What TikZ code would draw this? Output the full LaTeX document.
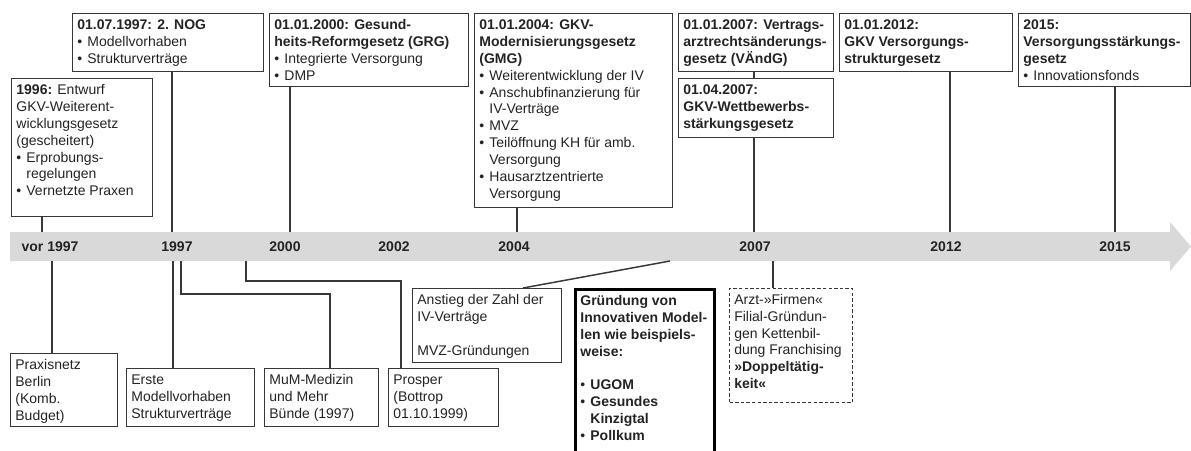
\documentclass[tikz,border=0pt]{standalone}
\usepackage{fontspec}
\setmainfont{Liberation Sans}
\newdimen\pxu \pxu=0.75pt
\newcommand\bx[3]{\begin{minipage}[t][\dimexpr #2\pxu-5.6pt\relax][t]{\dimexpr #1\pxu-7pt\relax}\begin{tabular}[t]{@{}l@{}}#3\end{tabular}\end{minipage}}
\newcommand\bl{\makebox[7.5pt][l]{\textbullet}}
\newcommand\ind{\hspace*{7.5pt}}
\definecolor{ln}{RGB}{55,55,55}
\definecolor{bandc}{RGB}{217,217,217}
\definecolor{txt}{RGB}{35,35,35}
\begin{document}
\begin{tikzpicture}[x=0.75pt,y=-0.75pt,
  box/.style={draw=ln, line width=1.1pt, inner xsep=3.5pt, inner ysep=2.8pt, anchor=north west, text=txt, font=\fontsize{10.5}{12.7}\selectfont},
  thickbox/.style={box, draw=black, line width=2.6pt},
  dashbox/.style={box, line width=0.9pt, dash pattern=on 2.6pt off 1.6pt},
  conn/.style={draw=ln, line width=1.1pt},
  yr/.style={font=\fontsize{10.5}{12}\selectfont\bfseries, text=txt, inner sep=0pt}]
\useasboundingbox (0,0) rectangle (1191,450);
\clip (0,0) rectangle (1191,450);
% time band
\fill[bandc] (10,232) -- (1170,232) -- (1170,222) -- (1191,246.5) -- (1170,271) -- (1170,261) -- (10,261) -- cycle;
% year labels
\node[yr] (yv) at (50,247) {vor 1997};
\node[yr] (y97) at (177,247) {1997};
\node[yr] (y00) at (285,247) {2000};
\node[yr] (y02) at (394,247) {2002};
\node[yr] (y04) at (514,247) {2004};
\node[yr] (y07) at (755,247) {2007};
\node[yr] (y12) at (946,247) {2012};
\node[yr] (y15) at (1115,247) {2015};
% upper boxes
\node[box] (b1996) at (11,78) {\bx{141}{138}{\textbf{1996:} Entwurf\\GKV-Weiterent-\\wicklungsgesetz\\(gescheitert)\\\bl Erprobungs-\\\ind regelungen\\\bl Vernetzte Praxen}};
\node[box] (b1997) at (72,13) {\bx{191}{58}{\textbf{01.07.1997: 2. NOG}\\\bl Modellvorhaben\\\bl Strukturverträge}};
\node[box] (b2000) at (269,13) {\bx{199}{73}{\textbf{01.01.2000: Gesund-}\\\textbf{heits-Reformgesetz (GRG)}\\\bl Integrierte Versorgung\\\bl DMP}};
\node[box] (b2004) at (474,13) {\bx{198}{194}{\textbf{01.01.2004: GKV-}\\\textbf{Modernisierungsgesetz}\\\textbf{(GMG)}\\\bl Weiterentwicklung der IV\\\bl Anschubfinanzierung für\\\ind IV-Verträge\\\bl MVZ\\\bl Teilöffnung KH für amb.\\\ind Versorgung\\\bl Hausarztzentrierte\\\ind Versorgung}};
\node[box] (b2007a) at (678,13) {\bx{155}{58}{\textbf{01.01.2007: Vertrags-}\\\textbf{arztrechtsänderungs-}\\\textbf{gesetz (VÄndG)}}};
\node[box] (b2007b) at (678,78) {\bx{155}{59}{\textbf{01.04.2007:}\\\textbf{GKV-Wettbewerbs-}\\\textbf{stärkungsgesetz}}};
\node[box] (b2012) at (839,13) {\bx{173}{58}{\textbf{01.01.2012:}\\\textbf{GKV Versorgungs-}\\\textbf{strukturgesetz}}};
\node[box] (b2015) at (1018,13) {\bx{172}{73}{\textbf{2015:}\\\textbf{Versorgungsstärkungs-}\\\textbf{gesetz}\\\bl Innovationsfonds}};
% lower boxes
\node[box] (bPrax) at (10,353) {\bx{107}{73}{Praxisnetz\\Berlin\\(Komb.\\Budget)}};
\node[box] (bErste) at (126,368) {\bx{128}{58}{Erste\\Modellvorhaben\\Strukturverträge}};
\node[box] (bMuM) at (264,368) {\bx{114}{58}{MuM-Medizin\\und Mehr\\Bünde (1997)}};
\node[box] (bProsper) at (388,368) {\bx{110}{58}{Prosper\\(Bottrop\\01.10.1999)}};
\node[box] (bAnstieg) at (412,288) {\bx{149}{74}{Anstieg der Zahl der\\IV-Verträge\\ \\MVZ-Gründungen}};
\node[thickbox] (bGruend) at (574,288) {\bx{139}{200}{\textbf{Gründung von}\\\textbf{Innovativen Model-}\\\textbf{len wie beispiels-}\\\textbf{weise:}\\ \\\bl\textbf{UGOM}\\\bl\textbf{Gesundes}\\\ind\textbf{Kinzigtal}\\\bl\textbf{Pollkum}}};
\node[dashbox] (bDash) at (729,288) {\bx{123}{114}{Arzt-»Firmen«\\Filial-Gründun-\\gen Kettenbil-\\dung Franchising\\\textbf{»Doppeltätig-}\\\textbf{keit«}}};
% band attachment points
\coordinate (u1996) at (42,232);
\coordinate (u1997) at (172,232);
\coordinate (u2000) at (290,232);
\coordinate (u2004) at (517,232);
\coordinate (u2007) at (754,232);
\coordinate (u2012) at (950,232);
\coordinate (u2015) at (1115,232);
\coordinate (d1) at (52,261);
\coordinate (d2) at (173,261);
\coordinate (d3) at (181,261);
\coordinate (d4) at (246,261);
\coordinate (d5) at (670,261);
\coordinate (d6) at (773,261);
\coordinate (m1) at (330,294);
\coordinate (m2) at (401,281);
% upper connectors
\draw[conn] (u1996 |- b1996.south) -- (u1996);
\draw[conn] (u1997 |- b1997.south) -- (u1997);
\draw[conn] (u2000 |- b2000.south) -- (u2000);
\draw[conn] (u2004 |- b2004.south) -- (u2004);
\draw[conn] (u2007 |- b2007a.south) -- (u2007 |- b2007b.north);
\draw[conn] (u2007 |- b2007b.south) -- (u2007);
\draw[conn] (u2012 |- b2012.south) -- (u2012);
\draw[conn] (u2015 |- b2015.south) -- (u2015);
% lower connectors
\draw[conn] (d1) -- (d1 |- bPrax.north);
\draw[conn] (d2) -- (d2 |- bErste.north);
\draw[conn] (d3) |- (m1) -- (m1 |- bMuM.north);
\draw[conn] (d4) |- (m2) -- (m2 |- bProsper.north);
\draw[conn] (d5) -- ([xshift=111\pxu]bAnstieg.north west);
\draw[conn] (d6) -- (d6 |- bDash.north);
\end{tikzpicture}
\end{document}
